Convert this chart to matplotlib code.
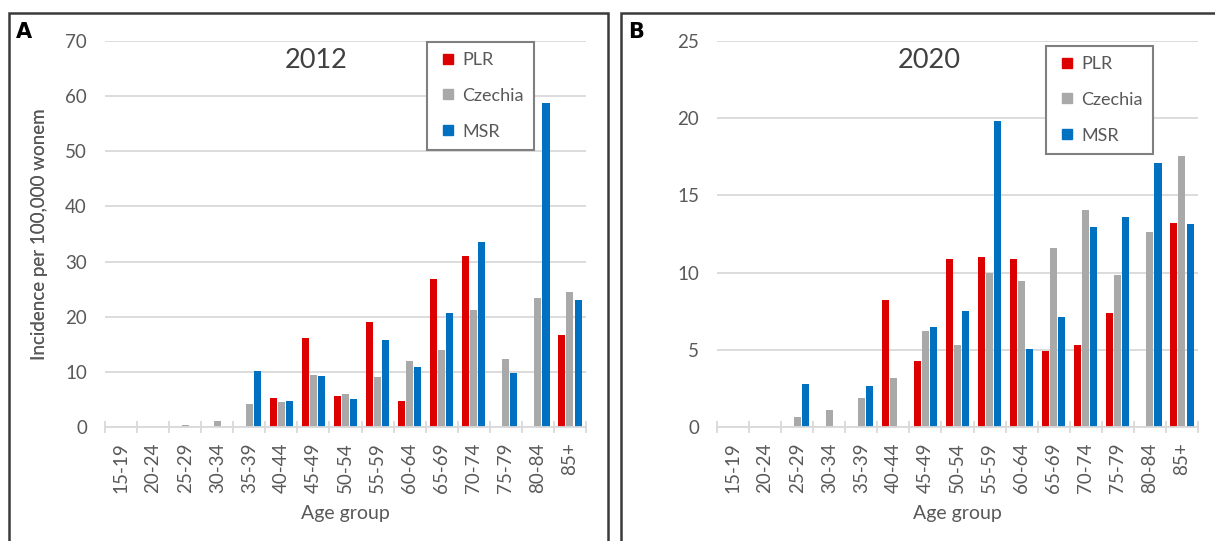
import matplotlib
matplotlib.use("Agg")
import matplotlib.pyplot as plt
from matplotlib.patches import Rectangle
from matplotlib.lines import Line2D
import numpy as np

plt.rcParams['font.family'] = ['Lato', 'DejaVu Sans']

age_groups = ["15-19", "20-24", "25-29", "30-34", "35-39", "40-44", "45-49", "50-54",
              "55-59", "60-64", "65-69", "70-74", "75-79", "80-84", "85+"]
series_names = ["PLR", "Czechia", "MSR"]

plr_2012 = [0, 0, 0, 0, 0, 5.3, 16.1, 5.6, 19.0, 4.8, 26.9, 31.0, 0, 0, 16.6]
cz_2012 = [0, 0, 0.3, 1.0, 4.2, 4.5, 9.5, 5.9, 9.0, 11.9, 14.0, 21.3, 12.4, 23.4, 24.5]
msr_2012 = [0, 0, 0, 0, 10.1, 4.7, 9.2, 5.1, 15.7, 10.9, 20.7, 33.6, 9.8, 58.7, 23.0]

plr_2020 = [0, 0, 0, 0, 0, 8.25, 4.3, 10.85, 11.0, 10.9, 4.95, 5.3, 7.4, 0, 13.2]
cz_2020 = [0, 0, 0.65, 1.1, 1.9, 3.15, 6.2, 5.3, 10.0, 9.45, 11.6, 14.05, 9.85, 12.6, 17.55]
msr_2020 = [0, 0, 2.8, 0, 2.65, 0, 6.45, 7.5, 19.8, 5.05, 7.1, 12.95, 13.6, 17.1, 13.15]

colors = ["#DC0000", "#A9A9A9", "#0070C0"]
W, H = 1215, 541

fig = plt.figure(figsize=(W / 100, H / 100), dpi=100)

def fx(px):
    return px / W

def fy(py):
    return 1 - py / H

panels = [
    dict(label="A", title="2012", data=[plr_2012, cz_2012, msr_2012], ymax=70, ystep=10,
         ax_l=105, ax_r=586, frame=(9, 13, 608), leg=(427, 42), title_x=316),
    dict(label="B", title="2020", data=[plr_2020, cz_2020, msr_2020], ymax=25, ystep=5,
         ax_l=717, ax_r=1198, frame=(621, 13, 1240), leg=(1046, 46), title_x=929),
]

text_col = "#595959"
grid_col = "#D9D9D9"
ax_top, ax_bot = 41, 427

for p in panels:
    fl, ft, fr = p["frame"]
    fig.patches.append(Rectangle((fx(fl), fy(560)), fx(fr) - fx(fl), fy(ft) - fy(560),
                                 transform=fig.transFigure, fill=False,
                                 edgecolor="#3A3A3A", linewidth=1.8, clip_on=False))
    ax_w = p["ax_r"] - p["ax_l"]
    ax_h = ax_bot - ax_top
    ax = fig.add_axes([fx(p["ax_l"]), fy(ax_bot), fx(p["ax_r"]) - fx(p["ax_l"]), fy(ax_top) - fy(ax_bot)])
    x = np.arange(len(age_groups))
    step = 0.252
    bw = 0.22
    for i, (vals, c) in enumerate(zip(p["data"], colors)):
        ax.bar(x + (i - 1) * step, vals, width=bw, color=c, zorder=3, linewidth=0)
    ax.set_xlim(-0.5, len(age_groups) - 0.5)
    ax.set_ylim(0, p["ymax"])
    ax.set_yticks(np.arange(0, p["ymax"] + 0.1, p["ystep"]))
    ax.yaxis.grid(True, color=grid_col, linewidth=1.3, zorder=0)
    ax.set_axisbelow(True)
    for s in ["top", "right", "left"]:
        ax.spines[s].set_visible(False)
    ax.spines["bottom"].set_color(grid_col)
    ax.spines["bottom"].set_linewidth(1.3)
    ax.spines["bottom"].set_zorder(4)
    ax.set_xticks(x)
    ax.set_xticklabels(age_groups, rotation=90, fontsize=13.5, color=text_col)
    ax.set_xticks(np.arange(-0.5, len(age_groups)), minor=True)
    ax.tick_params(axis="x", which="major", length=0, pad=11)
    ax.tick_params(axis="x", which="minor", length=9, direction="inout", color=grid_col, width=1.3)
    ax.tick_params(axis="y", length=0, pad=13, labelsize=13.5, labelcolor=text_col)
    ax.set_ylabel("Incidence per 100,000 wonem", fontsize=13.5, color=text_col, va="center")
    ax.yaxis.set_label_coords((40 - p["ax_l"]) / ax_w, 0.5)
    ax.set_xlabel("Age group", fontsize=14, color=text_col, va="center")
    ax.xaxis.set_label_coords(0.5, -(514 - ax_bot) / ax_h)

    handles = [Line2D([], [], marker="s", linestyle="none", markersize=7.5,
                      markerfacecolor=c, markeredgecolor=c) for c in colors]
    leg = ax.legend(handles, series_names, loc="upper left",
                    bbox_to_anchor=(fx(p["leg"][0]), fy(p["leg"][1])),
                    bbox_transform=fig.transFigure, borderaxespad=0,
                    fontsize=13, labelspacing=1.1, borderpad=0.55,
                    handlelength=1.25, handletextpad=0.15, fancybox=False,
                    framealpha=1, edgecolor="#808080")
    leg.get_frame().set_linewidth(1.5)
    for t in leg.get_texts():
        t.set_color(text_col)
    leg.set_zorder(10)

    fig.text(fx(p["title_x"]), fy(61), p["title"], ha="center", va="center",
             fontsize=19.5, color="#404040")
    fig.text(fx(fl + 7), fy(ft + 9), p["label"], ha="left", va="top",
             fontsize=15, fontweight="bold", color="black", family="DejaVu Sans")

fig.savefig("out.png", dpi=100)
